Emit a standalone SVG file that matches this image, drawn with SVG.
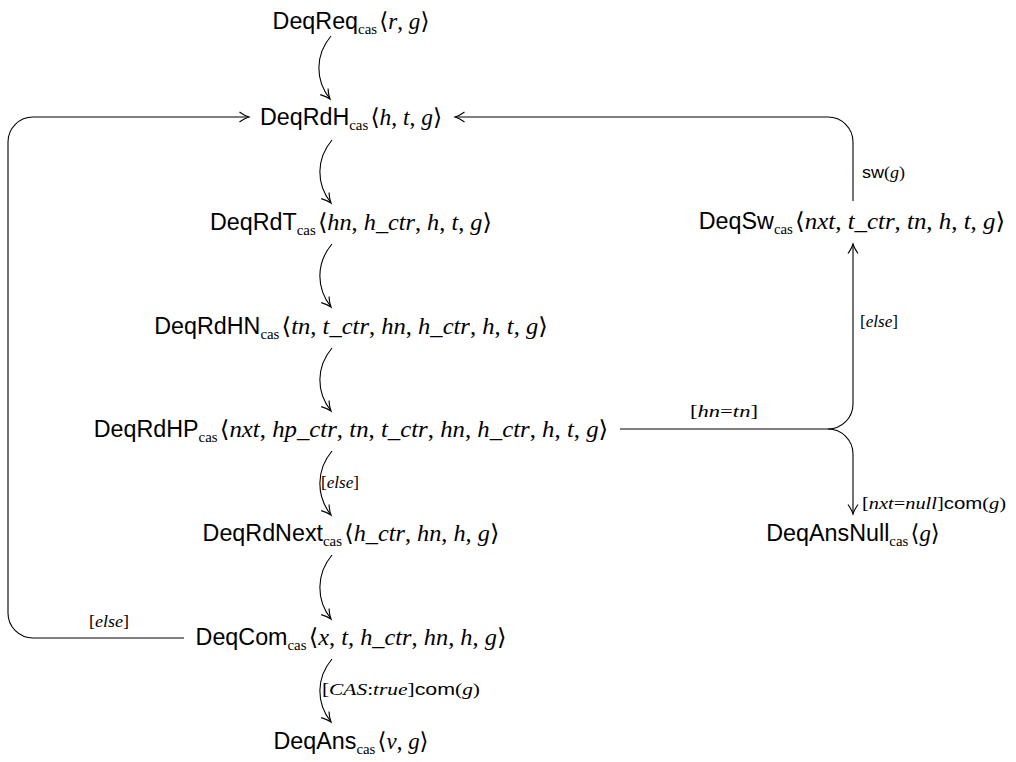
<svg xmlns="http://www.w3.org/2000/svg" width="1016" height="762" viewBox="0 0 1016 762">
<style>
.nm{font-family:"Liberation Sans",Arial,sans-serif;font-size:23.3px;fill:#000}
.sb{font-family:"Liberation Serif","Times New Roman",serif;font-size:15px;fill:#000}
.mt{font-family:"Liberation Serif","DejaVu Serif",serif;font-style:italic;font-size:23.3px;fill:#000}
.up{font-style:normal}
.lb{font-family:"Liberation Serif","DejaVu Serif",serif;font-style:italic;font-size:16px;fill:#000}
.ls{font-family:"Liberation Sans",Arial,sans-serif;font-style:normal}
.edge{fill:none;stroke:#000;stroke-width:1.1}
</style>
<defs>
<marker id="to" markerUnits="userSpaceOnUse" markerWidth="16" markerHeight="16" viewBox="-12 -8 16 16" refX="0" refY="0" orient="auto">
<path d="M-9.5,-5 C-5.5,-2.2 -2.2,-0.6 0,0 C-2.2,0.6 -5.5,2.2 -9.5,5" fill="none" stroke="#000" stroke-width="1.1"/>
</marker>
</defs>
<g id="connectors">
<path class="edge" marker-end="url(#to)" d="M331,36 C315,55 315,80 330,99"/>
<path class="edge" marker-end="url(#to)" d="M332,140 C316,159 316,184 331,203"/>
<path class="edge" marker-end="url(#to)" d="M332,244 C316,263 316,288 331,307"/>
<path class="edge" marker-end="url(#to)" d="M332,348 C316,367 316,392 331,411"/>
<path class="edge" marker-end="url(#to)" d="M332,451 C316,470 316,496 331,515"/>
<path class="edge" marker-end="url(#to)" d="M332,555 C316,574 316,600 331,619"/>
<path class="edge" marker-end="url(#to)" d="M332,659 C316,678 316,703 331,722"/>
<path class="edge" marker-end="url(#to)" d="M184,638 H33 A25,25 0 0 1 8,613 V142 A25,25 0 0 1 33,117 H249"/>
<path class="edge" marker-end="url(#to)" d="M853,201 V142 A25,25 0 0 0 828,117 H455"/>
<path class="edge" d="M620,429 H828"/>
<path class="edge" marker-end="url(#to)" d="M828,429 A25,25 0 0 0 853,404 V244"/>
<path class="edge" marker-end="url(#to)" d="M828,429 A25,25 0 0 1 853,454 V514"/>
<text class="lb" x="862" y="178" textLength="43" lengthAdjust="spacingAndGlyphs"><tspan class="ls">sw</tspan><tspan class="up">(</tspan>g<tspan class="up">)</tspan></text>
<text class="lb" x="860" y="327" textLength="38" lengthAdjust="spacingAndGlyphs"><tspan class="up">[</tspan>else<tspan class="up">]</tspan></text>
<text class="lb" x="690" y="417" textLength="68" lengthAdjust="spacingAndGlyphs"><tspan class="up">[</tspan>hn<tspan class="up">=</tspan>tn<tspan class="up">]</tspan></text>
<text class="lb" x="862" y="509" textLength="144" lengthAdjust="spacingAndGlyphs"><tspan class="up">[</tspan>nxt<tspan class="up">=</tspan>null<tspan class="up">]</tspan><tspan class="ls">com</tspan><tspan class="up">(</tspan>g<tspan class="up">)</tspan></text>
<text class="lb" x="321" y="488" textLength="38" lengthAdjust="spacingAndGlyphs"><tspan class="up">[</tspan>else<tspan class="up">]</tspan></text>
<text class="lb" x="322" y="695" textLength="158" lengthAdjust="spacingAndGlyphs"><tspan class="up">[</tspan>CAS<tspan class="up">:</tspan>true<tspan class="up">]</tspan><tspan class="ls">com</tspan><tspan class="up">(</tspan>g<tspan class="up">)</tspan></text>
<text class="lb" x="89" y="627" textLength="40" lengthAdjust="spacingAndGlyphs"><tspan class="up">[</tspan>else<tspan class="up">]</tspan></text>
</g>
<g id="DeqReq">
<text class="nm" x="272.6" y="29">DeqReq</text>
<text class="sb" x="358.1" y="34" textLength="19" lengthAdjust="spacingAndGlyphs">cas</text>
<text class="mt" x="379.3" y="29" textLength="50.1" lengthAdjust="spacingAndGlyphs"><tspan class="up">⟨</tspan>r<tspan class="up">, </tspan>g<tspan class="up">⟩</tspan></text>
</g>
<g id="DeqRdH">
<text class="nm" x="259.9" y="125">DeqRdH</text>
<text class="sb" x="349.2" y="130" textLength="19" lengthAdjust="spacingAndGlyphs">cas</text>
<text class="mt" x="370.4" y="125" textLength="71.8" lengthAdjust="spacingAndGlyphs"><tspan class="up">⟨</tspan>h<tspan class="up">, </tspan>t<tspan class="up">, </tspan>g<tspan class="up">⟩</tspan></text>
</g>
<g id="DeqRdT">
<text class="nm" x="210" y="230">DeqRdT</text>
<text class="sb" x="296.7" y="235" textLength="19" lengthAdjust="spacingAndGlyphs">cas</text>
<text class="mt" x="317.9" y="230" textLength="174" lengthAdjust="spacingAndGlyphs"><tspan class="up">⟨</tspan>hn<tspan class="up">, </tspan>h_ctr<tspan class="up">, </tspan>h<tspan class="up">, </tspan>t<tspan class="up">, </tspan>g<tspan class="up">⟩</tspan></text>
</g>
<g id="DeqSw">
<text class="nm" x="698.8" y="229">DeqSw</text>
<text class="sb" x="773.9" y="234" textLength="19" lengthAdjust="spacingAndGlyphs">cas</text>
<text class="mt" x="795.1" y="229" textLength="210.1" lengthAdjust="spacingAndGlyphs"><tspan class="up">⟨</tspan>nxt<tspan class="up">, </tspan>t_ctr<tspan class="up">, </tspan>tn<tspan class="up">, </tspan>h<tspan class="up">, </tspan>t<tspan class="up">, </tspan>g<tspan class="up">⟩</tspan></text>
</g>
<g id="DeqRdHN">
<text class="nm" x="154.2" y="334">DeqRdHN</text>
<text class="sb" x="260.4" y="339" textLength="19" lengthAdjust="spacingAndGlyphs">cas</text>
<text class="mt" x="281.6" y="334" textLength="266.2" lengthAdjust="spacingAndGlyphs"><tspan class="up">⟨</tspan>tn<tspan class="up">, </tspan>t_ctr<tspan class="up">, </tspan>hn<tspan class="up">, </tspan>h_ctr<tspan class="up">, </tspan>h<tspan class="up">, </tspan>t<tspan class="up">, </tspan>g<tspan class="up">⟩</tspan></text>
</g>
<g id="DeqRdHP">
<text class="nm" x="93.7" y="437">DeqRdHP</text>
<text class="sb" x="198.6" y="442" textLength="19" lengthAdjust="spacingAndGlyphs">cas</text>
<text class="mt" x="219.8" y="437" textLength="388.5" lengthAdjust="spacingAndGlyphs"><tspan class="up">⟨</tspan>nxt<tspan class="up">, </tspan>hp_ctr<tspan class="up">, </tspan>tn<tspan class="up">, </tspan>t_ctr<tspan class="up">, </tspan>hn<tspan class="up">, </tspan>h_ctr<tspan class="up">, </tspan>h<tspan class="up">, </tspan>t<tspan class="up">, </tspan>g<tspan class="up">⟩</tspan></text>
</g>
<g id="DeqRdNext">
<text class="nm" x="202.6" y="541">DeqRdNext</text>
<text class="sb" x="323" y="546" textLength="19" lengthAdjust="spacingAndGlyphs">cas</text>
<text class="mt" x="344.2" y="541" textLength="155.2" lengthAdjust="spacingAndGlyphs"><tspan class="up">⟨</tspan>h_ctr<tspan class="up">, </tspan>hn<tspan class="up">, </tspan>h<tspan class="up">, </tspan>g<tspan class="up">⟩</tspan></text>
</g>
<g id="DeqAnsNull">
<text class="nm" x="766.3" y="541">DeqAnsNull</text>
<text class="sb" x="889.3" y="546" textLength="19" lengthAdjust="spacingAndGlyphs">cas</text>
<text class="mt" x="910.5" y="541" textLength="29.2" lengthAdjust="spacingAndGlyphs"><tspan class="up">⟨</tspan>g<tspan class="up">⟩</tspan></text>
</g>
<g id="DeqCom">
<text class="nm" x="195.6" y="645">DeqCom</text>
<text class="sb" x="287.5" y="650" textLength="19" lengthAdjust="spacingAndGlyphs">cas</text>
<text class="mt" x="308.7" y="645" textLength="197.7" lengthAdjust="spacingAndGlyphs"><tspan class="up">⟨</tspan>x<tspan class="up">, </tspan>t<tspan class="up">, </tspan>h_ctr<tspan class="up">, </tspan>hn<tspan class="up">, </tspan>h<tspan class="up">, </tspan>g<tspan class="up">⟩</tspan></text>
</g>
<g id="DeqAns">
<text class="nm" x="273.5" y="749">DeqAns</text>
<text class="sb" x="356.4" y="754" textLength="19" lengthAdjust="spacingAndGlyphs">cas</text>
<text class="mt" x="377.6" y="749" textLength="50.9" lengthAdjust="spacingAndGlyphs"><tspan class="up">⟨</tspan>v<tspan class="up">, </tspan>g<tspan class="up">⟩</tspan></text>
</g>
</svg>
